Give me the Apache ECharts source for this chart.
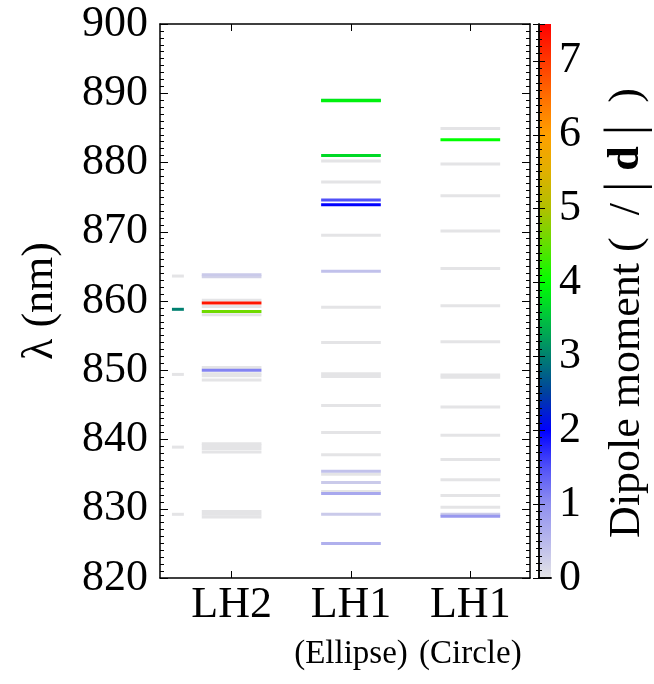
<!DOCTYPE html>
<html>
<head>
<meta charset="utf-8">
<script src="https://cdn.jsdelivr.net/npm/echarts@6/dist/echarts.min.js"></script>
<style>
html,body{margin:0;padding:0;background:#fff;}
#c{width:654px;height:684px;}
</style>
</head>
<body>
<div id="c"></div>
<script>
// column positions on the x value axis
const colX = {mono:0.55, lh2:1, ell:2, cir:3};
const tickLabels = {1:'{a|LH2}', 2:'{a|LH1}\n{b|(Ellipse)}', 3:'{a|LH1}\n{b|(Circle)}'};

// wavelengths (nm) and dipole moments (/|d|)
const monoLam = [863.6, 858.8, 849.4, 838.9, 829.2];
const monoDip = [0, 3.0, 0, 0, 0];

const lh2Lam = [863.8, 863.5, 860.1, 859.7, 859.2, 858.5, 858.0, 850.4, 850.0, 849.5, 849.2, 848.6, 839.4, 839.1, 838.7, 838.2, 829.6, 829.2, 828.8];
const lh2Dip = [0.3, 0.2, 0, 7.3, 0, 4.6, 0, 0, 1.1, 0, 0, 0, 0, 0, 0, 0, 0, 0, 0];

const ellLam = [889.0, 888.9, 881.0, 880.2, 877.2, 874.6, 873.9, 869.5, 864.3, 859.1, 854.0, 849.5, 849.1, 844.9, 841.0, 837.8, 835.4, 835.0, 833.8, 832.5, 832.2, 829.2, 825.0];
const ellDip = [3.6, 3.9, 3.7, 0, 0, 1.5, 2.0, 0, 0.4, 0, 0, 0, 0, 0, 0, 0, 0.4, 0, 0.3, 0, 0.7, 0.3, 0.6];

const cirLam = [884.9, 883.3, 879.8, 875.2, 870.1, 864.7, 859.3, 854.1, 849.3, 849.0, 844.7, 840.6, 837.1, 834.2, 831.9, 830.2, 829.2, 828.9];
const cirDip = [0, 4.0, 0, 0, 0, 0, 0, 0, 0, 0, 0, 0, 0, 0, 0, 0, 0.3, 0.9];

// colour scale 0 .. 7.5, one stop every 0.5
const dipMax = 7.5;
const scaleColors = ['#e4e4e6','#b8b8ec','#9090f0','#5050f8','#0000ff','#0040a0','#008070','#00c040',
  '#00ff00','#60e000','#b0c000','#e0b000','#ffa000','#ff7000','#ff3800','#ff0000'];

const FONT = '"Liberation Serif", "DejaVu Serif", serif';

function rows(x, lam, dip){
  return lam.map((l,i)=>[x, l, dip[i]]).sort((a,b)=>a[2]-b[2]);
}
function lineSeries(x, lam, dip, hw){
  return {
    type:'custom', xAxisIndex:0, yAxisIndex:0, z:3,
    data: rows(x, lam, dip),
    renderItem:(params, api)=>{
      const p1 = api.coord([api.value(0)-hw, api.value(1)]);
      const p2 = api.coord([api.value(0)+hw, api.value(1)]);
      return {type:'rect', shape:{x:p1[0], y:p1[1]-1.5, width:p2[0]-p1[0], height:3},
        style:{fill:api.visual('color')}};
    }
  };
}

const blackLine = {show:true, lineStyle:{color:'#000', width:1.5}};
const c = echarts.init(document.getElementById('c'));
c.setOption({
  animation:false,
  textStyle:{fontFamily:FONT},
  grid:[
    {left:160, top:24, width:370, height:554},
    {left:539, top:24, width:18, height:554}
  ],
  visualMap:{
    show:false, type:'continuous', min:0, max:dipMax, dimension:2, seriesIndex:[0,1,2,3],
    inRange:{color:scaleColors}
  },
  xAxis:[
    {gridIndex:0, type:'value', min:0.4, max:3.5, position:'bottom', z:5,
      axisLine:blackLine, splitLine:{show:false},
      axisTick:{inside:true, length:7, customValues:[1,2,3], lineStyle:{color:'#000'}},
      axisLabel:{customValues:[1,2,3], margin:4, color:'#000', formatter:v=>tickLabels[v]||'',
        rich:{a:{fontSize:44, lineHeight:46, fontFamily:FONT, color:'#000'},
              b:{fontSize:33, lineHeight:52, fontFamily:FONT, color:'#000'}}}},
    {gridIndex:0, type:'value', min:0.4, max:3.5, position:'top', z:5,
      axisLine:blackLine, splitLine:{show:false},
      axisTick:{inside:true, length:7, customValues:[1,2,3], lineStyle:{color:'#000'}},
      axisLabel:{show:false}},
    {gridIndex:1, type:'value', min:0, max:1, position:'bottom', z:5,
      axisLine:blackLine, axisTick:{show:false}, axisLabel:{show:false}, splitLine:{show:false}},
    {gridIndex:1, type:'value', min:0, max:1, position:'top', z:5,
      axisLine:blackLine, axisTick:{show:false}, axisLabel:{show:false}, splitLine:{show:false}}
  ],
  yAxis:[
    {gridIndex:0, type:'value', min:820, max:900, interval:10, position:'left', z:5,
      name:'λ (nm)', nameLocation:'middle', nameRotate:90, nameGap:98,
      nameTextStyle:{fontSize:44, color:'#000', fontFamily:FONT},
      axisLine:blackLine, splitLine:{show:false},
      axisTick:{inside:true, length:8, lineStyle:{color:'#000'}},
      minorTick:{show:true, splitNumber:10, length:4, lineStyle:{color:'#000'}},
      axisLabel:{fontSize:44, color:'#000', margin:12, fontFamily:FONT}},
    {gridIndex:0, type:'value', min:820, max:900, interval:10, position:'right', z:5,
      axisLine:blackLine, splitLine:{show:false},
      axisTick:{inside:true, length:8, lineStyle:{color:'#000'}},
      minorTick:{show:true, splitNumber:10, length:4, lineStyle:{color:'#000'}},
      axisLabel:{show:false}},
    {gridIndex:1, type:'value', min:0, max:dipMax, interval:1, position:'right', z:5,
      name:'{n|Dipole moment (  / }{b||}{d| d }{b||}{n|  )}', nameLocation:'middle', nameRotate:90, nameGap:50,
      nameTextStyle:{padding:[0,24,0,0], rich:{n:{fontSize:44, color:'#000', fontFamily:FONT},
        b:{fontSize:52, color:'#000', fontFamily:FONT},
        d:{fontSize:44, fontWeight:'bold', color:'#000', fontFamily:FONT}}},
      axisLine:blackLine, splitLine:{show:false},
      axisTick:{inside:true, length:6, lineStyle:{color:'#000'}},
      minorTick:{show:true, splitNumber:10, length:3, lineStyle:{color:'#000'}},
      axisLabel:{fontSize:44, color:'#000', margin:8, fontFamily:FONT}},
    {gridIndex:1, type:'value', min:0, max:dipMax, interval:1, position:'left', z:5,
      axisLine:blackLine, splitLine:{show:false},
      axisTick:{inside:true, length:6, lineStyle:{color:'#000'}},
      minorTick:{show:true, splitNumber:10, length:3, lineStyle:{color:'#000'}},
      axisLabel:{show:false}}
  ],
  series:[
    lineSeries(colX.mono, monoLam, monoDip, 0.05),
    lineSeries(colX.lh2, lh2Lam, lh2Dip, 0.25),
    lineSeries(colX.ell, ellLam, ellDip, 0.25),
    lineSeries(colX.cir, cirLam, cirDip, 0.25),
    {
      // colour bar
      type:'custom', xAxisIndex:2, yAxisIndex:2, z:1, data:[[0]],
      renderItem:(params, api)=>{
        const p0 = api.coord([0, 0]);
        const p1 = api.coord([1, dipMax]);
        const stops = scaleColors.map((col,i)=>({offset:i/(scaleColors.length-1), color:col}));
        return {type:'rect', shape:{x:p0[0], y:p1[1], width:p1[0]-p0[0], height:p0[1]-p1[1]},
          style:{fill:new echarts.graphic.LinearGradient(0,1,0,0,stops)}};
      }
    }
  ]
});
</script>
</body>
</html>
